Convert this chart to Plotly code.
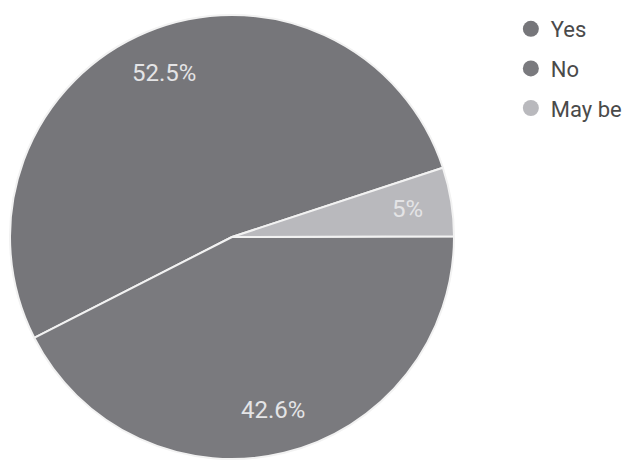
import math
import plotly.graph_objects as go

labels = ["Yes", "No", "May be"]
values = [52.5, 42.6, 5]
text_labels = ["52.5%", "42.6%", "5%"]
colors = ["#76767a", "#7a7a7e", "#b9b9bd"]

W, H = 617, 453
CX, CY, R = 224, 224, 222          # pie centre (px from left / bottom) and radius
START = 18                          # start angle (math degrees), counterclockwise
LABEL_FRAC = 0.8

fig = go.Figure()
fig.add_trace(go.Pie(
    labels=labels, values=values, textinfo="none",
    sort=False, direction="counterclockwise", rotation=261 - START,
    marker=dict(colors=colors, line=dict(color="#f2f2f2", width=2)),
    showlegend=False, hoverinfo="label+percent",
    domain=dict(x=[(CX - R) / W, (CX + R) / W], y=[(CY - R) / H, (CY + R) / H]),
))

# percentage labels placed on each slice's mid-angle
total = sum(values)
acc = START
for v, t in zip(values, text_labels):
    mid = math.radians(acc + 360 * v / total / 2)
    acc += 360 * v / total
    fig.add_annotation(
        x=(CX + LABEL_FRAC * R * math.cos(mid)) / W,
        y=(CY + LABEL_FRAC * R * math.sin(mid)) / H,
        xref="paper", yref="paper", xanchor="center", yanchor="middle",
        text=t, showarrow=False,
        font=dict(family="Roboto", size=24, color="#e4e4e6"),
    )

for lab, col in zip(labels, colors):
    fig.add_trace(go.Scatter(
        x=[None], y=[None], mode="markers", name=lab, legendgroup=lab,
        marker=dict(symbol="circle", size=22, color=col),
        showlegend=True,
    ))

fig.update_layout(
    width=W, height=H,
    margin=dict(l=0, r=0, t=0, b=0, autoexpand=False),
    paper_bgcolor="#ffffff", plot_bgcolor="#ffffff",
    xaxis=dict(visible=False), yaxis=dict(visible=False),
    legend=dict(x=0.815, y=1.0, xanchor="left", yanchor="top",
                font=dict(family="Roboto", size=22, color="#4a4a4a"),
                itemsizing="trace", tracegroupgap=8, bgcolor="rgba(0,0,0,0)"),
)
fig.write_html("out.html")
